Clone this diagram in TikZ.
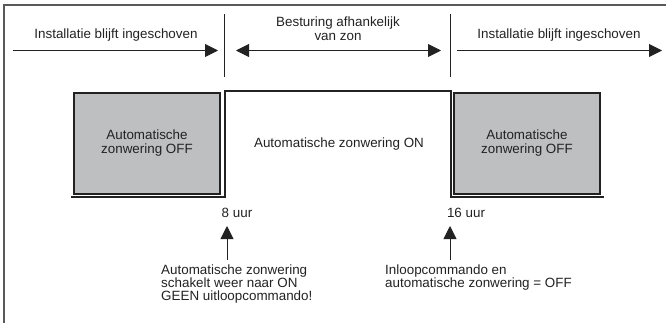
\documentclass[tikz,border=0pt]{standalone}
\usepackage{fontspec}
\setmainfont{Liberation Sans}
\usetikzlibrary{arrows.meta,positioning}
\definecolor{offgray}{HTML}{BEBFC1}
\definecolor{inkgray}{HTML}{222222}

\begin{document}
\begin{tikzpicture}[
    x=1pt, y=-1pt,
    font=\fontsize{13.4}{14}\selectfont,
    text=inkgray,
    >={Triangle[length=13pt,width=13pt]},
    flow/.style={->, line width=0.9pt, draw=inkgray},
    span/.style={<->, line width=0.9pt, draw=inkgray},
    divider/.style={line width=1pt, draw=inkgray},
    level/.style={line width=1.4pt, draw=inkgray},
    frameline/.style={line width=2pt, draw=black!65},
    offbox/.style={
        draw=inkgray,
        fill=offgray,
        line width=1.6pt,
        align=center,
        minimum width=146pt,
        minimum height=101pt
    },
    label/.style={
        inner sep=0pt,
        align=center
    },
    note/.style={
        inner sep=0pt,
        align=left,
        anchor=north west,
        font=\fontsize{13.4}{12.8}\selectfont
    }
]
\useasboundingbox (0,0) rectangle (666,322);

% Frame
\draw[frameline] (666,5) -- (4,5) -- (4,323);

% Phase dividers and spans
\coordinate (div8top) at (224,14);
\coordinate (div8bot) at (224,77);
\coordinate (div16top) at (450,14);
\coordinate (div16bot) at (450,77);
\draw[divider] (div8top) -- (div8bot);
\draw[divider] (div16top) -- (div16bot);

\coordinate (spanLa) at (13,50.5);
\coordinate (spanLb) at (218,50.5);
\coordinate (spanMa) at (236,50.5);
\coordinate (spanMb) at (441,50.5);
\coordinate (spanRa) at (457,50.5);
\coordinate (spanRb) at (662,50.5);
\draw[flow] (spanLa) -- (spanLb);
\draw[span] (spanMa) -- (spanMb);
\draw[flow] (spanRa) -- (spanRb);

\node[label] (phaseL) at (116,35) {Installatie blijft ingeschoven};
\node[label] (phaseM) at (338,29) {Besturing afhankelijk\\van zon};
\node[label] (phaseR) at (559,35) {Installatie blijft ingeschoven};

% States
\node[offbox] (offL) at (147,143.5) {Automatische\\zonwering OFF};
\node[offbox] (offR) at (527,143.5) {Automatische\\zonwering OFF};
\node[label] (onM) at (339,144) {Automatische zonwering ON};

\coordinate (lowL) at (71,197);
\coordinate (on8) at (225,91);
\coordinate (off16) at (451,91);
\coordinate (lowR) at (604,197);
\draw[level] (lowL) -| (on8) -- (off16) |- (lowR);

% Switching times
\node[label] (hour8) at (237,213) {8 uur};
\node[label] (hour16) at (466,213) {16 uur};

\coordinate (from8) at (227,260);
\coordinate (to8) at (227,226);
\coordinate (from16) at (450,260);
\coordinate (to16) at (450,226);
\draw[flow] (from8) -- (to8);
\draw[flow] (from16) -- (to16);

\node[note] (note8) at (161,265)
{Automatische zonwering\\schakelt weer naar ON\\GEEN uitloopcommando!};
\node[note] (note16) at (385,265)
{Inloopcommando en\\automatische zonwering = OFF};

\end{tikzpicture}
\end{document}
